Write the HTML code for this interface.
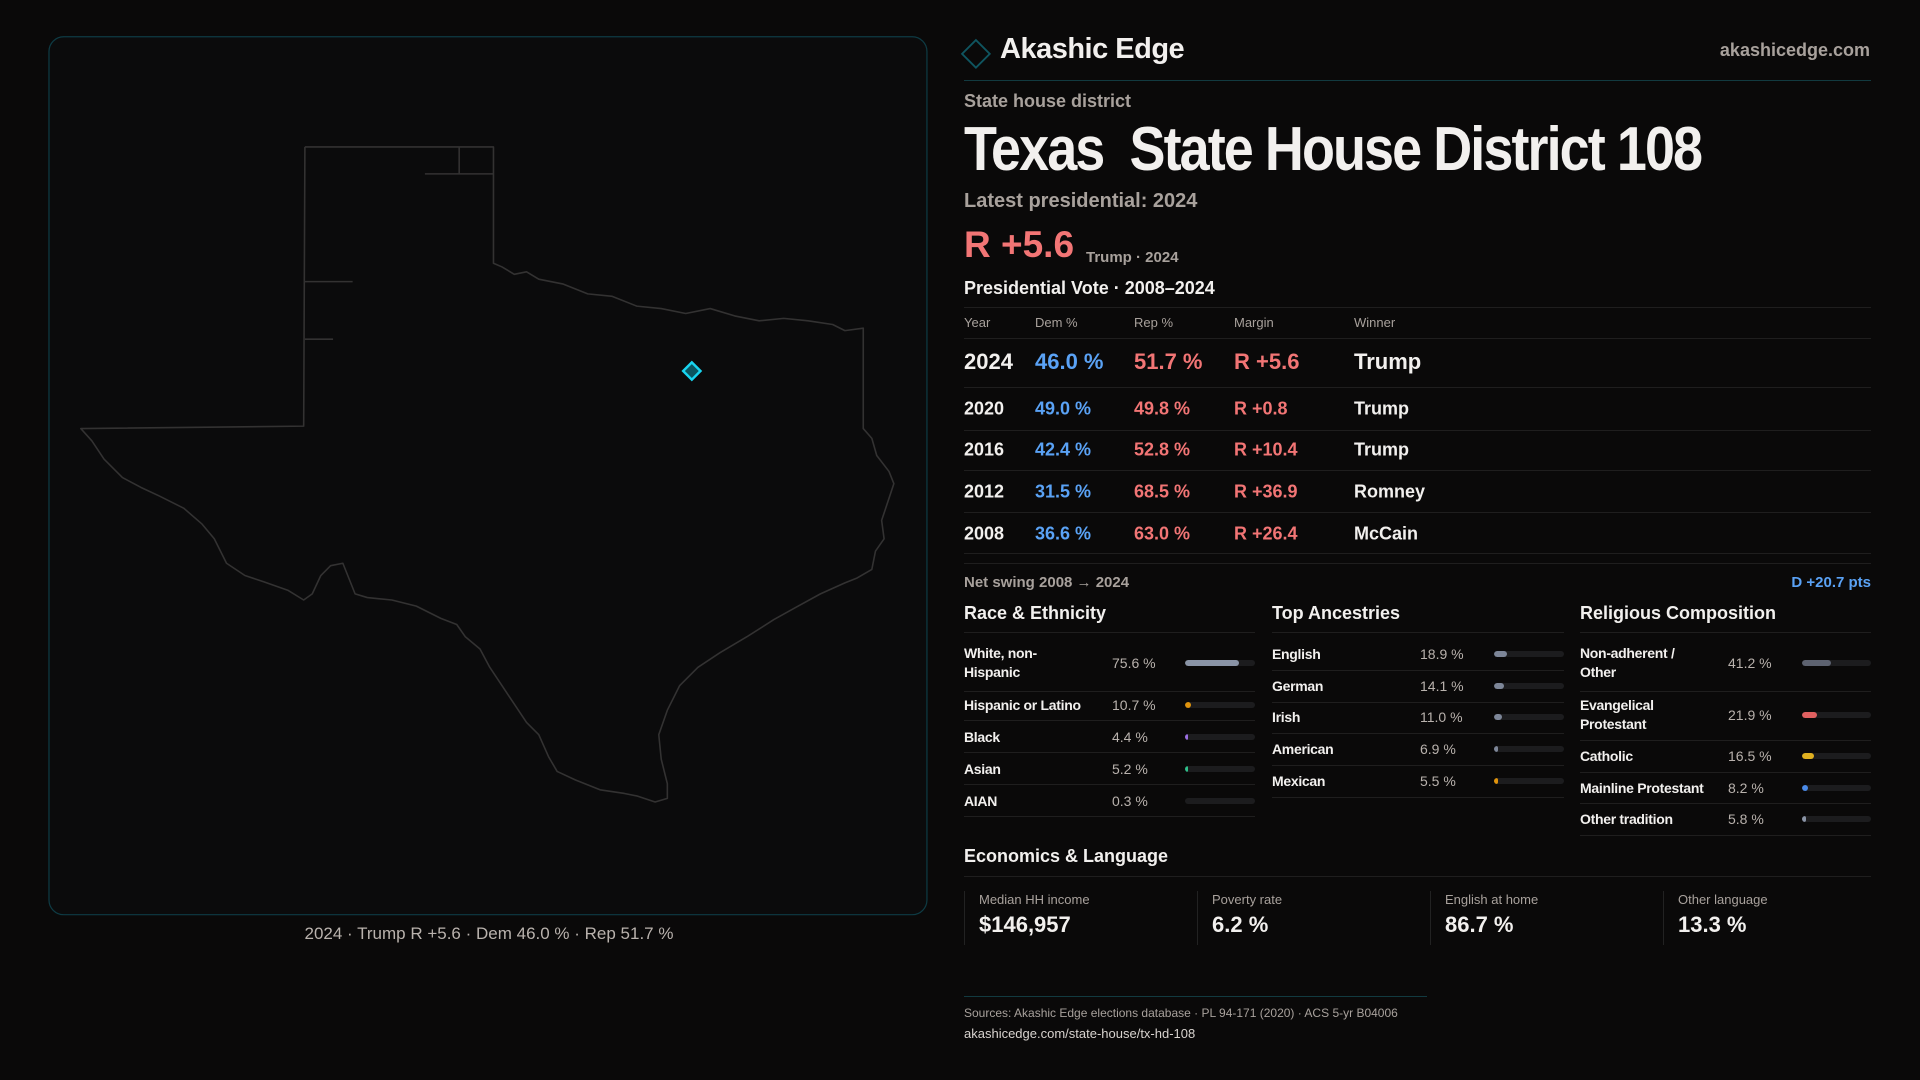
<!DOCTYPE html>
<html><head><meta charset="utf-8"><style>
*{margin:0;padding:0;box-sizing:border-box}
body{width:1920px;height:1080px;background:#0a0909;font-family:"Liberation Sans",sans-serif;color:#f2f0ee;position:relative;overflow:hidden}
.a{position:absolute;white-space:nowrap}
.g{color:#a8a19c}
.ln{position:absolute;height:1px;background:#1f1e1e}
.r{color:#f27575}.b{color:#5aa2f5}
.row{font-size:18px;font-weight:bold;transform:translateY(-50%)}
.sm{font-size:14px;font-weight:bold;transform:translateY(-50%);letter-spacing:-0.3px}
.val{font-size:14px;color:#b9b2ad;transform:translateY(-50%)}
.bar{position:absolute;height:6px;border-radius:3px;background:#1c1c1e;overflow:hidden}
.bar i{position:absolute;left:0;top:0;bottom:0;border-radius:3px}
.card{position:absolute;top:891px;height:54px;border-left:1px solid #222}
.card .l{position:absolute;left:14px;top:1px;font-size:13px;color:#a8a19c;white-space:nowrap}
.card .v{position:absolute;left:14px;top:21px;font-size:22px;font-weight:bold;white-space:nowrap}
</style></head><body>
<svg class="a" style="left:0;top:0" width="1920" height="1080" viewBox="0 0 1568 882">
<rect x="40" y="30" width="717" height="717" rx="12" fill="#0b0b0c" stroke="#0e3b44" stroke-width="1"/>
<g fill="none" stroke="#333232" stroke-width="1.3" stroke-linejoin="round">
<polyline points="249,120 403,120 403,215 410,218 420,224 430,222 440,228 460,232 480,240 500,242 520,250 540,252 560,256 580,252 600,258 620,262 640,260 660,262 680,265 690,270 705,268 705,350 712,358 716,372 726,385 730,395 725,410 720,425 722,440 715,450 712,465 700,472 690,476 670,485 650,496 632,506 610,520 588,533 570,545 555,560 545,580 538,600 540,620 545,640 545,652 535,655 520,650 510,648 490,645 470,637 455,630 448,618 440,600 430,590 420,575 410,560 400,545 392,530 380,520 373,510 360,505 340,495 320,490 300,488 290,485 280,460 270,462 262,470 255,485 248,490 235,482 215,475 200,470 185,460 175,440 165,428 150,415 130,405 115,398 100,390 85,375 75,360 66,350 248,348 249,120"/>
<line x1="347" y1="142" x2="403" y2="142"/><line x1="375" y1="120" x2="375" y2="142"/>
<line x1="249" y1="230" x2="288" y2="230"/><line x1="249" y1="277" x2="272" y2="277"/>
</g>
<rect x="560" y="298" width="10" height="10" transform="rotate(45 565 303)" fill="#0b5560" stroke="#18d4f0" stroke-width="2"/>
<rect x="789" y="36" width="16" height="16" transform="rotate(45 797 44)" fill="none" stroke="#0f5560" stroke-width="1.5"/>
</svg>
<div class="a" style="left:0;width:978px;top:924px;text-align:center;font-size:17px;color:#b9b2ad">2024 · Trump R +5.6 · Dem 46.0 % · Rep 51.7 %</div>

<div class="a" style="left:1000px;top:33px;font-size:29px;font-weight:bold;letter-spacing:-0.5px">Akashic Edge</div>
<div class="a g" style="right:50px;top:40px;font-size:18px;font-weight:bold">akashicedge.com</div>
<div class="ln" style="left:964px;width:907px;top:80px;background:#123a40"></div>
<div class="a g" style="left:964px;top:91px;font-size:18px;font-weight:bold">State house district</div>
<div class="a" style="left:964px;top:114px;font-size:62px;font-weight:bold;letter-spacing:-2.2px;transform:scaleX(0.87);transform-origin:left top">Texas&nbsp; State House District 108</div>
<div class="a g" style="left:964px;top:190px;font-size:20px;font-weight:bold">Latest presidential: 2024</div>
<div class="a r" style="left:964px;top:224px;font-size:37px;font-weight:bold">R +5.6</div>
<div class="a g" style="left:1086px;top:249px;font-size:15px;font-weight:bold">Trump · 2024</div>
<div class="a" style="left:964px;top:278px;font-size:18px;font-weight:bold">Presidential Vote · 2008–2024</div>
<div class="ln" style="left:964px;width:907px;top:307px"></div>
<div class="a g" style="left:964px;top:315px;font-size:13px">Year</div>
<div class="a g" style="left:1035px;top:315px;font-size:13px">Dem %</div>
<div class="a g" style="left:1134px;top:315px;font-size:13px">Rep %</div>
<div class="a g" style="left:1234px;top:315px;font-size:13px">Margin</div>
<div class="a g" style="left:1354px;top:315px;font-size:13px">Winner</div>
<div class="ln" style="left:964px;width:907px;top:338px"></div>
<div class="a row" style="left:964px;top:362px;font-size:22px">2024</div>
<div class="a row b" style="left:1035px;top:362px;font-size:22px">46.0 %</div>
<div class="a row r" style="left:1134px;top:362px;font-size:22px">51.7 %</div>
<div class="a row r" style="left:1234px;top:362px;font-size:22px">R +5.6</div>
<div class="a row" style="left:1354px;top:362px;font-size:22px">Trump</div>
<div class="ln" style="left:964px;width:907px;top:387px"></div>
<div class="a row" style="left:964px;top:409px">2020</div><div class="a row b" style="left:1035px;top:409px">49.0 %</div><div class="a row r" style="left:1134px;top:409px">49.8 %</div><div class="a row r" style="left:1234px;top:409px">R +0.8</div><div class="a row" style="left:1354px;top:409px">Trump</div>
<div class="ln" style="left:964px;width:907px;top:430px"></div>
<div class="a row" style="left:964px;top:450px">2016</div><div class="a row b" style="left:1035px;top:450px">42.4 %</div><div class="a row r" style="left:1134px;top:450px">52.8 %</div><div class="a row r" style="left:1234px;top:450px">R +10.4</div><div class="a row" style="left:1354px;top:450px">Trump</div>
<div class="ln" style="left:964px;width:907px;top:470px"></div>
<div class="a row" style="left:964px;top:492px">2012</div><div class="a row b" style="left:1035px;top:492px">31.5 %</div><div class="a row r" style="left:1134px;top:492px">68.5 %</div><div class="a row r" style="left:1234px;top:492px">R +36.9</div><div class="a row" style="left:1354px;top:492px">Romney</div>
<div class="ln" style="left:964px;width:907px;top:512px"></div>
<div class="a row" style="left:964px;top:534px">2008</div><div class="a row b" style="left:1035px;top:534px">36.6 %</div><div class="a row r" style="left:1134px;top:534px">63.0 %</div><div class="a row r" style="left:1234px;top:534px">R +26.4</div><div class="a row" style="left:1354px;top:534px">McCain</div>
<div class="ln" style="left:964px;width:907px;top:553px"></div>
<div class="ln" style="left:964px;width:907px;top:563px"></div>
<div class="a g" style="left:964px;top:574px;font-size:15px;font-weight:bold">Net swing 2008 → 2024</div>
<div class="a b" style="right:49px;top:574px;font-size:15px;font-weight:bold">D +20.7 pts</div>

<div class="a" style="left:964px;top:603px;font-size:18px;font-weight:bold">Race &amp; Ethnicity</div>
<div class="a" style="left:1272px;top:603px;font-size:18px;font-weight:bold">Top Ancestries</div>
<div class="a" style="left:1580px;top:603px;font-size:18px;font-weight:bold">Religious Composition</div>
<div class="ln" style="left:964px;width:291px;top:632px"></div>
<div class="ln" style="left:1272px;width:292px;top:632px"></div>
<div class="ln" style="left:1580px;width:291px;top:632px"></div>

<div class="a sm" style="left:964px;top:663px;line-height:19px">White, non-<br>Hispanic</div><div class="a val" style="left:1112px;top:663px">75.6 %</div><div class="bar" style="left:1185px;width:70px;top:660px"><i style="width:77%;background:#8a94a6"></i></div>
<div class="ln" style="left:964px;width:291px;top:691px"></div>
<div class="a sm" style="left:964px;top:705px">Hispanic or Latino</div><div class="a val" style="left:1112px;top:705px">10.7 %</div><div class="bar" style="left:1185px;width:70px;top:702px"><i style="width:8%;background:#e0930c"></i></div>
<div class="ln" style="left:964px;width:291px;top:720px"></div>
<div class="a sm" style="left:964px;top:737px">Black</div><div class="a val" style="left:1112px;top:737px">4.4 %</div><div class="bar" style="left:1185px;width:70px;top:734px"><i style="width:4%;background:#9a6ee0"></i></div>
<div class="ln" style="left:964px;width:291px;top:752px"></div>
<div class="a sm" style="left:964px;top:769px">Asian</div><div class="a val" style="left:1112px;top:769px">5.2 %</div><div class="bar" style="left:1185px;width:70px;top:766px"><i style="width:4%;background:#2fbf8a"></i></div>
<div class="ln" style="left:964px;width:291px;top:784px"></div>
<div class="a sm" style="left:964px;top:801px">AIAN</div><div class="a val" style="left:1112px;top:801px">0.3 %</div><div class="bar" style="left:1185px;width:70px;top:798px"></div>
<div class="ln" style="left:964px;width:291px;top:816px"></div>

<div class="a sm" style="left:1272px;top:654px">English</div><div class="a val" style="left:1420px;top:654px">18.9 %</div><div class="bar" style="left:1494px;width:70px;top:651px"><i style="width:18%;background:#7d8698"></i></div>
<div class="ln" style="left:1272px;width:292px;top:670px"></div>
<div class="a sm" style="left:1272px;top:686px">German</div><div class="a val" style="left:1420px;top:686px">14.1 %</div><div class="bar" style="left:1494px;width:70px;top:683px"><i style="width:14%;background:#7d8698"></i></div>
<div class="ln" style="left:1272px;width:292px;top:702px"></div>
<div class="a sm" style="left:1272px;top:717px">Irish</div><div class="a val" style="left:1420px;top:717px">11.0 %</div><div class="bar" style="left:1494px;width:70px;top:714px"><i style="width:11%;background:#7d8698"></i></div>
<div class="ln" style="left:1272px;width:292px;top:733px"></div>
<div class="a sm" style="left:1272px;top:749px">American</div><div class="a val" style="left:1420px;top:749px">6.9 %</div><div class="bar" style="left:1494px;width:70px;top:746px"><i style="width:6%;background:#7d8698"></i></div>
<div class="ln" style="left:1272px;width:292px;top:765px"></div>
<div class="a sm" style="left:1272px;top:781px">Mexican</div><div class="a val" style="left:1420px;top:781px">5.5 %</div><div class="bar" style="left:1494px;width:70px;top:778px"><i style="width:5%;background:#e0930c"></i></div>
<div class="ln" style="left:1272px;width:292px;top:797px"></div>

<div class="a sm" style="left:1580px;top:663px;line-height:19px">Non-adherent /<br>Other</div><div class="a val" style="left:1728px;top:663px">41.2 %</div><div class="bar" style="left:1802px;width:69px;top:660px"><i style="width:42%;background:#5d6270"></i></div>
<div class="ln" style="left:1580px;width:291px;top:691px"></div>
<div class="a sm" style="left:1580px;top:715px;line-height:19px">Evangelical<br>Protestant</div><div class="a val" style="left:1728px;top:715px">21.9 %</div><div class="bar" style="left:1802px;width:69px;top:712px"><i style="width:22%;background:#e06060"></i></div>
<div class="ln" style="left:1580px;width:291px;top:740px"></div>
<div class="a sm" style="left:1580px;top:756px">Catholic</div><div class="a val" style="left:1728px;top:756px">16.5 %</div><div class="bar" style="left:1802px;width:69px;top:753px"><i style="width:17%;background:#e0b020"></i></div>
<div class="ln" style="left:1580px;width:291px;top:772px"></div>
<div class="a sm" style="left:1580px;top:788px">Mainline Protestant</div><div class="a val" style="left:1728px;top:788px">8.2 %</div><div class="bar" style="left:1802px;width:69px;top:785px"><i style="width:8%;background:#4a8ae8"></i></div>
<div class="ln" style="left:1580px;width:291px;top:803px"></div>
<div class="a sm" style="left:1580px;top:819px">Other tradition</div><div class="a val" style="left:1728px;top:819px">5.8 %</div><div class="bar" style="left:1802px;width:69px;top:816px"><i style="width:6%;background:#8a94a6"></i></div>
<div class="ln" style="left:1580px;width:291px;top:835px"></div>

<div class="a" style="left:964px;top:846px;font-size:18px;font-weight:bold">Economics &amp; Language</div>
<div class="ln" style="left:964px;width:907px;top:876px"></div>
<div class="card" style="left:964px"><div class="l">Median HH income</div><div class="v">$146,957</div></div>
<div class="card" style="left:1197px"><div class="l">Poverty rate</div><div class="v">6.2 %</div></div>
<div class="card" style="left:1430px"><div class="l">English at home</div><div class="v">86.7 %</div></div>
<div class="card" style="left:1663px"><div class="l">Other language</div><div class="v">13.3 %</div></div>

<div class="ln" style="left:964px;width:463px;top:996px;background:#123a40"></div>
<div class="a g" style="left:964px;top:1006px;font-size:12px">Sources: Akashic Edge elections database · PL 94-171 (2020) · ACS 5-yr B04006</div>
<div class="a" style="left:964px;top:1026px;font-size:13px;color:#d8d3cf">akashicedge.com/state-house/tx-hd-108</div>
</body></html>
